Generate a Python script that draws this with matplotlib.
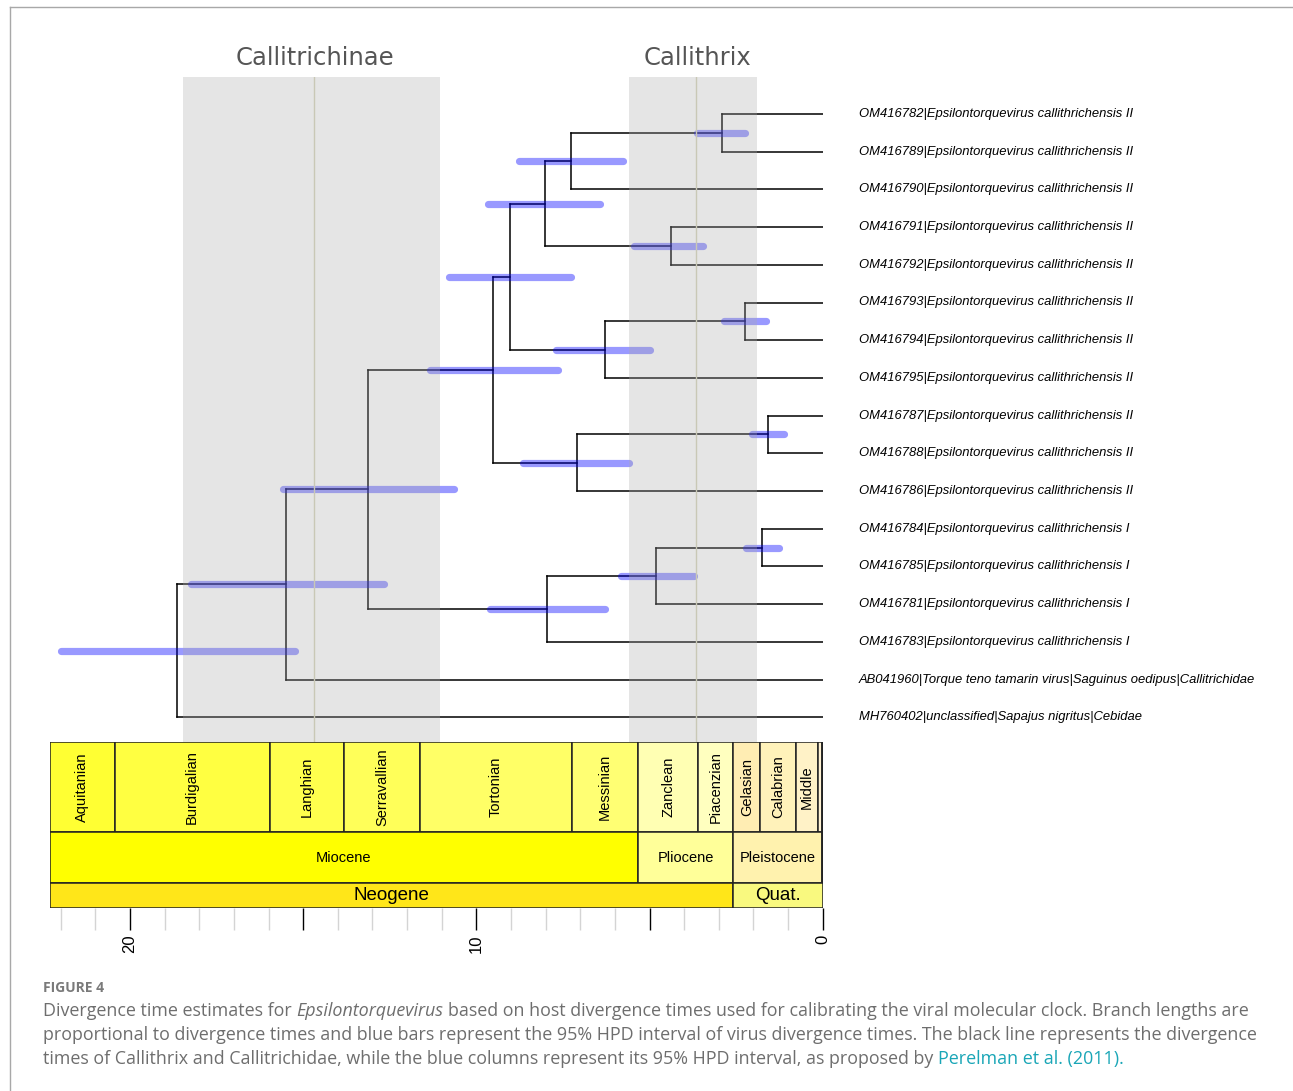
import matplotlib
matplotlib.use("Agg")
import matplotlib.pyplot as plt
from matplotlib.lines import Line2D
from matplotlib.patches import Rectangle

W, H, DPI = 1293, 1091, 100

TIP_LABELS = [
    "OM416782|Epsilontorquevirus callithrichensis II",
    "OM416789|Epsilontorquevirus callithrichensis II",
    "OM416790|Epsilontorquevirus callithrichensis II",
    "OM416791|Epsilontorquevirus callithrichensis II",
    "OM416792|Epsilontorquevirus callithrichensis II",
    "OM416793|Epsilontorquevirus callithrichensis II",
    "OM416794|Epsilontorquevirus callithrichensis II",
    "OM416795|Epsilontorquevirus callithrichensis II",
    "OM416787|Epsilontorquevirus callithrichensis II",
    "OM416788|Epsilontorquevirus callithrichensis II",
    "OM416786|Epsilontorquevirus callithrichensis II",
    "OM416784|Epsilontorquevirus callithrichensis I",
    "OM416785|Epsilontorquevirus callithrichensis I",
    "OM416781|Epsilontorquevirus callithrichensis I",
    "OM416783|Epsilontorquevirus callithrichensis I",
    "AB041960|Torque teno tamarin virus|Saguinus oedipus|Callitrichidae",
    "MH760402|unclassified|Sapajus nigritus|Cebidae",
]

# internal nodes: children are tip numbers (1-based) or other node names
NODE_NAMES = ["n1_2", "n1_3", "n4_5", "n1_5", "n6_7", "n6_8", "n1_8", "n9_10",
              "n9_11", "n1_11", "n12_13", "n12_14", "n12_15", "n1_15", "n1_16", "root"]
NODE_CHILDREN = {
    "n1_2": [1, 2], "n1_3": ["n1_2", 3], "n4_5": [4, 5], "n1_5": ["n1_3", "n4_5"],
    "n6_7": [6, 7], "n6_8": ["n6_7", 8], "n1_8": ["n1_5", "n6_8"],
    "n9_10": [9, 10], "n9_11": ["n9_10", 11], "n1_11": ["n1_8", "n9_11"],
    "n12_13": [12, 13], "n12_14": ["n12_13", 14], "n12_15": ["n12_14", 15],
    "n1_15": ["n1_11", "n12_15"], "n1_16": ["n1_15", 16], "root": ["n1_16", 17],
}
NODE_AGES = [2.90, 7.28, 4.37, 8.01, 2.24, 6.30, 9.02, 1.59,
             7.10, 9.51, 1.74, 4.80, 7.96, 13.12, 15.50, 18.64]
HPD_OLD = [3.64, 8.76, 5.44, 9.66, 2.85, 7.70, 10.79, 2.05,
           8.66, 11.34, 2.21, 5.83, 9.61, 15.59, 18.25, 21.99]
HPD_YOUNG = [2.24, 5.76, 3.45, 6.43, 1.65, 4.98, 7.28, 1.13,
             5.59, 7.63, 1.26, 3.72, 6.28, 10.65, 12.67, 15.23]

CALIB_NAMES = ["Callitrichinae", "Callithrix"]
CALIB_MEAN = [14.70, 3.65]
CALIB_OLD = [18.47, 5.60]
CALIB_YOUNG = [11.05, 1.90]

STAGE_NAMES = ["Aquitanian", "Burdigalian", "Langhian", "Serravallian", "Tortonian",
               "Messinian", "Zanclean", "Piacenzian", "Gelasian", "Calabrian",
               "Middle", "Late", "Holocene"]
STAGE_START = [23.03, 20.44, 15.97, 13.82, 11.63, 7.246, 5.333, 3.6, 2.58, 1.8,
               0.781, 0.126, 0.0117]
STAGE_END = STAGE_START[1:] + [0.0]
STAGE_COLORS = ["#FFFF33", "#FFFF41", "#FFFF4D", "#FFFF59", "#FFFF66", "#FFFF73",
                "#FFFFB3", "#FFFFBF", "#FFEDB3", "#FFF2BA", "#FFF2C7", "#FFF2D3", "#FEF2EC"]

EPOCH_NAMES = ["Miocene", "Pliocene", "Pleistocene", "Holocene"]
EPOCH_START = [23.03, 5.333, 2.58, 0.0117]
EPOCH_END = EPOCH_START[1:] + [0.0]
EPOCH_COLORS = ["#FFFF00", "#FFFF99", "#FFF2AE", "#FEF2E0"]

PERIOD_NAMES = ["Neogene", "Quat."]
PERIOD_START = [23.03, 2.58]
PERIOD_END = [2.58, 0.0]
PERIOD_COLORS = ["#FFE619", "#F9F97F"]

XMAX = 22.31
TIP_FONT = "Liberation Sans"
CAPTION_FONT = "Open Sans"

# ---- layout (pixels) ----
px_left, px_right = 50, 822.7
tree_top, tree_bottom, scale_bottom = 77, 742, 908
tip_first, tip_step = 114, 37.7

fig = plt.figure(figsize=(W / DPI, H / DPI), dpi=DPI)


def fig_box(x0, y0, x1, y1):
    return [x0 / W, 1 - y1 / H, (x1 - x0) / W, (y1 - y0) / H]


ax = fig.add_axes(fig_box(px_left, tree_top, px_right, tree_bottom))
sc = fig.add_axes(fig_box(px_left, tree_bottom, px_right, scale_bottom), sharex=ax)

# ---- tree ----
node_y = {}


def y_of(child):
    if isinstance(child, int):
        return float(child)
    if child not in node_y:
        ys = [y_of(c) for c in NODE_CHILDREN[child]]
        node_y[child] = (min(ys) + max(ys)) / 2
    return node_y[child]


age_of = dict(zip(NODE_NAMES, NODE_AGES))
for name, age, old, young in zip(NODE_NAMES, NODE_AGES, HPD_OLD, HPD_YOUNG):
    ys = [y_of(c) for c in NODE_CHILDREN[name]]
    ax.plot([age, age], [min(ys), max(ys)], color="black", lw=1.1, zorder=2)
    for c in NODE_CHILDREN[name]:
        c_age = 0.0 if isinstance(c, int) else age_of[c]
        ax.plot([age, c_age], [y_of(c)] * 2, color="black", lw=1.1, zorder=2)
    ax.plot([old, young], [y_of(name)] * 2, color=(0, 0, 1, 0.4), lw=5.2,
            solid_capstyle="round", zorder=3)

for i, label in enumerate(TIP_LABELS, start=1):
    ax.annotate(label, xy=(0, i), xytext=(36, 0), textcoords="offset pixels",
                va="center", ha="left", fontsize=9.4, style="italic",
                family=TIP_FONT, annotation_clip=False)

for name, mean, old, young in zip(CALIB_NAMES, CALIB_MEAN, CALIB_OLD, CALIB_YOUNG):
    ax.axvspan(old, young, color="#aaaaaa", alpha=0.3, lw=0, zorder=4)
    ax.axvline(mean, color="#c9c8b6", lw=1.0, zorder=5)
    ax.annotate(name, xy=(mean, 1), xycoords=ax.get_xaxis_transform(),
                xytext=(1.5, 19), textcoords="offset pixels", ha="center", va="center",
                fontsize=17.5, color="#555555", family="DejaVu Sans",
                annotation_clip=False)

ax.set_xlim(XMAX, 0)
ax.set_ylim(1 + (tree_bottom - tip_first) / tip_step, 1 - (tip_first - tree_top) / tip_step)
ax.axis("off")

# ---- geological time scale ----
rows = [
    (STAGE_NAMES, STAGE_START, STAGE_END, STAGE_COLORS, 76, 166, 10.5, 90),
    (EPOCH_NAMES, EPOCH_START, EPOCH_END, EPOCH_COLORS, 25, 76, 10.5, 0),
    (PERIOD_NAMES, PERIOD_START, PERIOD_END, PERIOD_COLORS, 0, 25, 13.5, 0),
]
for names, starts, ends, colors, y0, y1, fsize, rot in rows:
    for name, s, e, col in zip(names, starts, ends, colors):
        s = min(s, XMAX)
        sc.add_patch(Rectangle((e, y0), s - e, y1 - y0, facecolor=col,
                               edgecolor="#222222", lw=1.1, zorder=2))
        if s - e > 0.5:
            sc.text((s + e) / 2, (y0 + y1) / 2, name, ha="center", va="center",
                    rotation=rot, fontsize=fsize, family=TIP_FONT, zorder=3)

sc.set_ylim(0, 166)
sc.set_yticks([])
for side in ["top", "right", "left", "bottom"]:
    sc.spines[side].set_visible(False)

major = [0, 5, 10, 15, 20]
sc.set_xticks(major)
sc.set_xticklabels(["0", "", "10", "", "20"], rotation=90, family=TIP_FONT, fontsize=12)
sc.set_xticks([t for t in range(1, 23) if t % 5], minor=True)
sc.tick_params(axis="x", which="both", length=15.8, width=1, pad=3.5, direction="out")
sc.tick_params(axis="x", which="minor", color="#d4d4d4")
for t, tick in zip(major, sc.xaxis.get_major_ticks()):
    tick.tick1line.set_color("#333333" if t % 10 == 0 else "#8c8c8c")
sc.set_xlim(XMAX, 0)

# ---- frame ----
fig.add_artist(Line2D([10 / W, 1], [1 - 7 / H] * 2, color="#a8a8a8", lw=1))
fig.add_artist(Line2D([10 / W] * 2, [1 - 7 / H, 0], color="#a8a8a8", lw=1))

# ---- caption ----
renderer = fig.canvas.get_renderer()
cap_color = "#6e6e6e"
link_color = "#1aa6b7"


def text_width(s, size, style="normal"):
    t = fig.text(0, 0, s, fontsize=size, style=style, family=CAPTION_FONT)
    w = t.get_window_extent(renderer).width
    t.remove()
    return w


caption = [
    [("Divergence time estimates for", "normal", cap_color),
     ("Epsilontorquevirus", "italic", cap_color),
     ("based on host divergence times used for calibrating the viral molecular "
      "clock. Branch lengths are", "normal", cap_color)],
    [("proportional to divergence times and blue bars represent the 95% HPD interval "
      "of virus divergence times. The black line represents the divergence",
      "normal", cap_color)],
    [("times of Callithrix and Callitrichidae, while the blue columns represent its "
      "95% HPD interval, as proposed by", "normal", cap_color),
     ("Perelman et al. (2011).", "normal", link_color)],
]

# font size fitted so the second caption line spans the same width as in the figure
base = 12
size = base * (1255 - 43) / text_width(caption[1][0][0], base)
space = text_width("x x", size) - text_width("xx", size)

fig.text(43 / W, 1 - 992 / H, "FIGURE 4", fontsize=10, weight="bold",
         color="#7a7a7a", family=CAPTION_FONT, va="baseline")
for line, baseline in zip(caption, [1016, 1040, 1064]):
    x = 43
    for s, st, col in line:
        t = fig.text(x / W, 1 - baseline / H, s, fontsize=size, style=st, color=col,
                     family=CAPTION_FONT, va="baseline")
        x = t.get_window_extent(renderer).x1 + space

fig.savefig("out.png", dpi=DPI)
